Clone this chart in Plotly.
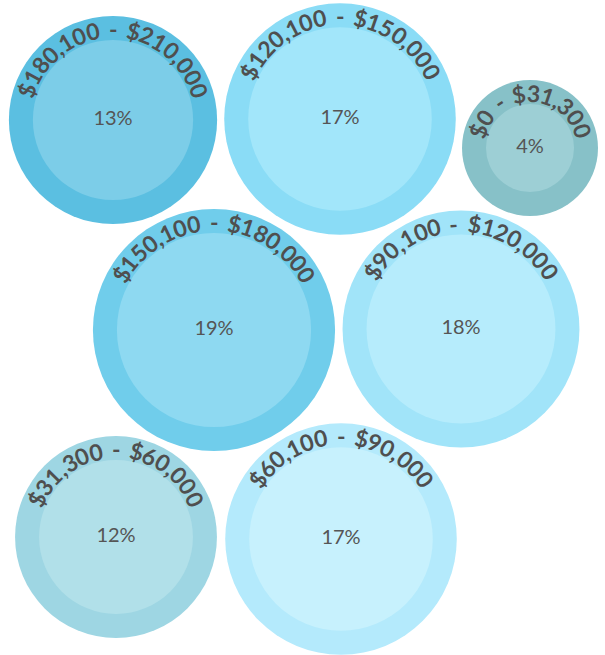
import math
import plotly.graph_objects as go

# ---- data ----
ranges = ["$180,100 - $210,000", "$120,100 - $150,000", "$0 - $31,300",
          "$150,100 - $180,000", "$90,100 - $120,000", "$31,300 - $60,000",
          "$60,100 - $90,000"]
shares = [13, 17, 4, 19, 18, 12, 17]

# ---- layout (bubble pack positions, pixels) ----
pos_x = [113, 340, 530, 214, 461, 116, 341]
pos_y = [120, 119, 148, 330, 329, 537, 539]
outer_colors = ["#5bbfe1", "#8adcf6", "#87c1c8", "#70cdeb", "#a1e4f9", "#9ed6e3", "#b4eafc"]
inner_colors = ["#7ccde8", "#a2e6fa", "#9dcfd5", "#8ed9f1", "#b6ecfc", "#b1e0e9", "#c7f1fd"]
RING = 24
W, H = 605, 655


def radius(v):
    return 23 + 22.5 * math.sqrt(v)


radii = [radius(v) for v in shares]

fig = go.Figure()
fig.add_trace(go.Scatter(
    x=pos_x, y=pos_y, mode="markers",
    marker=dict(size=[2 * r for r in radii], color=outer_colors, line=dict(width=0), opacity=1),
    hoverinfo="skip", showlegend=False))
fig.add_trace(go.Scatter(
    x=pos_x, y=pos_y, mode="markers+text",
    marker=dict(size=[2 * (r - RING) for r in radii], color=inner_colors, line=dict(width=0), opacity=1),
    text=[f"{v}%" for v in shares], textposition="middle center",
    textfont=dict(family="Lato", size=20, color="#555555"),
    hoverinfo="skip", showlegend=False))

# curved labels: one annotation per character along the ring
EM = 22
WIDTHS = {"$": 0.6, ",": 0.28, " ": 0.4, "-": 0.4}


def cw(ch):
    return WIDTHS.get(ch, 0.62) * EM


annotations = []
for label, cx, cy, r in zip(ranges, pos_x, pos_y, radii):
    rc = r - 13
    rb = rc - 4
    widths = [cw(c) for c in label]
    total = sum(widths)
    s = -total / 2
    for ch, w in zip(label, widths):
        mid = s + w / 2
        s += w
        if ch == " ":
            continue
        th = mid / rb
        annotations.append(dict(
            x=cx + rc * math.sin(th), y=cy - rc * math.cos(th),
            xref="x", yref="y", text=ch, showarrow=False,
            textangle=math.degrees(th), xanchor="center", yanchor="middle",
            font=dict(family="Lato", size=23, color="#4f4f4f", weight="bold")))

fig.update_layout(
    width=W, height=H, margin=dict(l=0, r=0, t=0, b=0),
    paper_bgcolor="white", plot_bgcolor="white",
    xaxis=dict(range=[0, W], visible=False, fixedrange=True),
    yaxis=dict(range=[H, 0], visible=False, fixedrange=True),
    annotations=annotations,
)
fig.write_html("out.html", config={"displayModeBar": False},
               post_script="document.body.style.margin='0';")
